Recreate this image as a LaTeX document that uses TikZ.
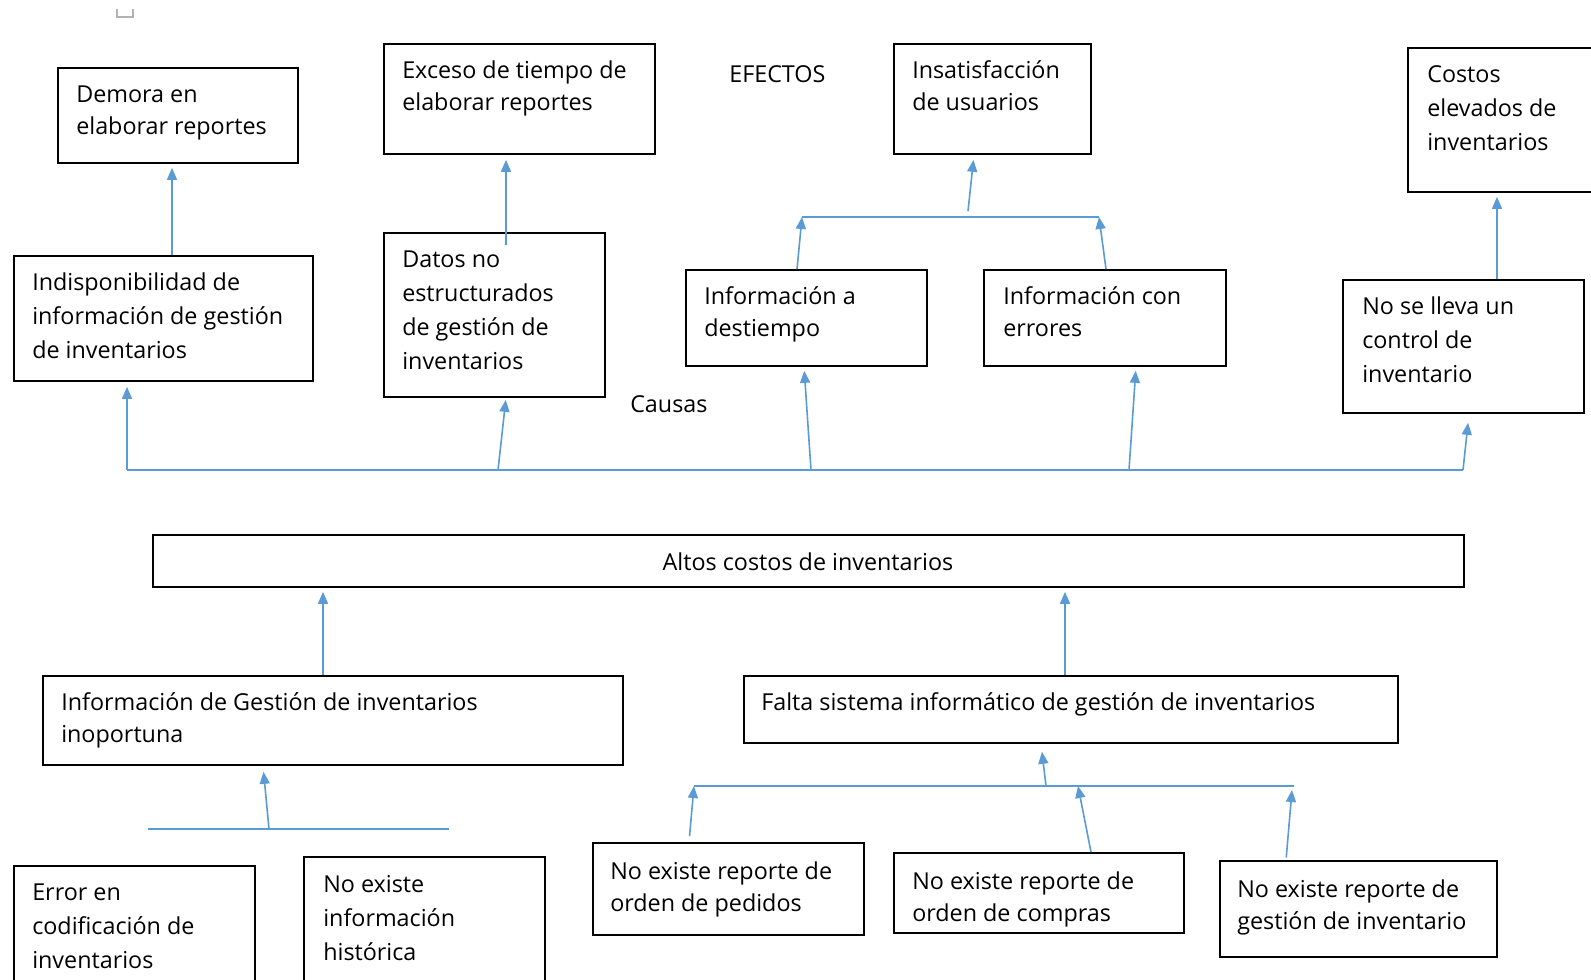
\documentclass[tikz,border=0pt]{standalone}
\usepackage{fontspec}
\setmainfont{Open Sans}
\usetikzlibrary{arrows.meta,fit}
\definecolor{linkblue}{HTML}{5B9BD5}
\begin{document}
\begin{tikzpicture}[x=0.75pt,y=-0.75pt,
  box/.style={draw=black, line width=1.3pt, inner sep=0pt, rectangle},
  txt/.style={anchor=north west, inner sep=0pt, align=left, yshift=12.5pt,
    font=\fontsize{17.5}{24}\selectfont, execute at begin node=\rule{0pt}{14pt}},
  txtw/.style={txt, font=\fontsize{17.5}{25.5}\selectfont},
  ctxt/.style={anchor=base, inner sep=0pt, yshift=-1.5pt, font=\fontsize{17.5}{24}\selectfont},
  bus/.style={draw=linkblue, line width=1.2pt},
  arr/.style={bus, -{Triangle[length=9pt,width=7.5pt]}},
]
\clip (0,0) rectangle (1591,980);
\fill[white] (0,0) rectangle (1591,980);

% small mark at the top
\draw[gray!60, line width=0.8pt] (117,9) -- (117,17) -- (133,17) -- (133,9);

% ---------- effects ----------
\node[box, fit={(58,68) (298,163)}] (demora) {};
\node[txt] (demoraT) at (76,102) {Demora en\\elaborar reportes};

\node[box, fit={(384,44) (655,154)}] (exceso) {};
\node[txt] (excesoT) at (402,77) {Exceso de tiempo de\\elaborar reportes};

\node[ctxt, anchor=base west] (efectos) at (729,81) {EFECTOS};

\node[box, fit={(894,44) (1091,154)}] (insat) {};
\node[txt] (insatT) at (912,77) {Insatisfacción\\de usuarios};

\node[box, fit={(1408,48) (1600,192)}] (costos) {};
\node[txtw] (costosT) at (1427,82) {Costos\\elevados de\\inventarios};

% ---------- causes ----------
\node[box, fit={(14,256) (313,381)}] (indisp) {};
\node[txtw] (indispT) at (32,289) {Indisponibilidad de\\información de gestión\\de inventarios};

\node[box, fit={(384,233) (605,397)}] (datos) {};
\node[txtw] (datosT) at (402,267) {Datos no\\estructurados\\de gestión de\\inventarios};

\node[box, fit={(686,270) (927,366)}] (dest) {};
\node[txt] (destT) at (704,303) {Información a\\destiempo};

\node[box, fit={(984,270) (1226,366)}] (err) {};
\node[txt] (errT) at (1003,303) {Información con\\errores};

\node[box, fit={(1343,280) (1584,413)}] (lleva) {};
\node[txtw] (llevaT) at (1362,313) {No se lleva un\\control de\\inventario};

\node[ctxt, anchor=base west] (causas) at (630,410) {Causas};

% arrows between effects and causes
\draw[arr, shorten >=3pt] (indisp.north -| 172,0) -- (demora.south -| 172,0);
\draw[arr, shorten <=-9.75pt, shorten >=3.75pt] (datos.north -| 506,0) -- (exceso.south -| 506,0);
\draw[arr, shorten >=3pt] (lleva.north -| 1497,0) -- (costos.south -| 1497,0);

\coordinate (bl) at (802,217);
\coordinate (br) at (1099,217);
\coordinate (bt) at (968,211);
\draw[bus] (bl) -- (br);
\draw[arr] (dest.north -| 797,0) -- (bl);
\draw[arr] (err.north -| 1106,0) -- (br);
\draw[arr, shorten >=3.75pt] (bt) -- (insat.south -| 974,0);

% main cause bus
\coordinate (c1) at (127,470);
\coordinate (c2) at (498,470);
\coordinate (c3) at (811,470);
\coordinate (c4) at (1129,470);
\coordinate (c5) at (1463,470);
\draw[bus] (c1) -- (c5);
\draw[arr, shorten >=3.75pt] (c1) -- (indisp.south -| c1);
\draw[arr, shorten >=1.5pt] (c2) -- (datos.south -| 506,0);
\draw[arr, shorten >=3pt] (c3) -- (dest.south -| 804,0);
\draw[arr, shorten >=3pt] (c4) -- (err.south -| 1136,0);
\draw[arr, shorten >=6.75pt] (c5) -- (lleva.south -| 1469,0);

% ---------- central problem ----------
\node[box, fit={(153,535) (1464,587)}] (altos) {};
\node[ctxt] (altosT) at (808,568) {Altos costos de inventarios};

\node[box, fit={(43,676) (623,765)}] (gestion) {};
\node[txt] (gestionT) at (61,709) {Información de Gestión de inventarios\\inoportuna};

\node[box, fit={(744,676) (1398,743)}] (falta) {};
\node[txt] (faltaT) at (761,708) {Falta sistema informático de gestión de inventarios};

\draw[arr, shorten >=3pt] (gestion.north -| 323,0) -- (altos.south -| 323,0);
\draw[arr, shorten >=3pt] (falta.north -| 1065,0) -- (altos.south -| 1065,0);

% ---------- lower causes, left ----------
\coordinate (ll) at (148,829);
\coordinate (lr) at (449,829);
\coordinate (lm) at (269,829);
\draw[bus] (ll) -- (lr);
\draw[arr, shorten >=4.5pt] (lm) -- (gestion.south -| 263,0);

\node[box, fit={(14,866) (255,995)}] (errcod) {};
\node[txtw] (errcodT) at (32,900) {Error en\\codificación de\\inventarios};

\node[box, fit={(304,857) (545,995)}] (nohist) {};
\node[txtw] (nohistT) at (323,892) {No existe\\información\\histórica};

% ---------- lower causes, right ----------
\coordinate (rl) at (694,786);
\coordinate (rr) at (1294,786);
\coordinate (rm) at (1046,786);
\coordinate (rc) at (1078,786);
\coordinate (rg) at (1292,790);
\draw[bus] (rl) -- (rr);
\draw[arr, shorten >=6pt] (rm) -- (falta.south -| 1041,0);

\node[box, fit={(593,843) (864,935)}] (pedidos) {};
\node[txt] (pedidosT) at (610,878) {No existe reporte de\\orden de pedidos};

\node[box, fit={(894,853) (1184,933)}] (compras) {};
\node[txt] (comprasT) at (912,888) {No existe reporte de\\orden de compras};

\node[box, fit={(1220,861) (1497,957)}] (geinv) {};
\node[txt] (geinvT) at (1237,896) {No existe reporte de\\gestión de inventario};

\draw[arr, shorten <=4.5pt] (pedidos.north -| 689,0) -- (rl);
\draw[arr] (compras.north -| 1091,0) -- (rc);
\draw[arr, shorten <=2pt] (geinv.north -| 1286,0) -- (rg);

\end{tikzpicture}
\end{document}
